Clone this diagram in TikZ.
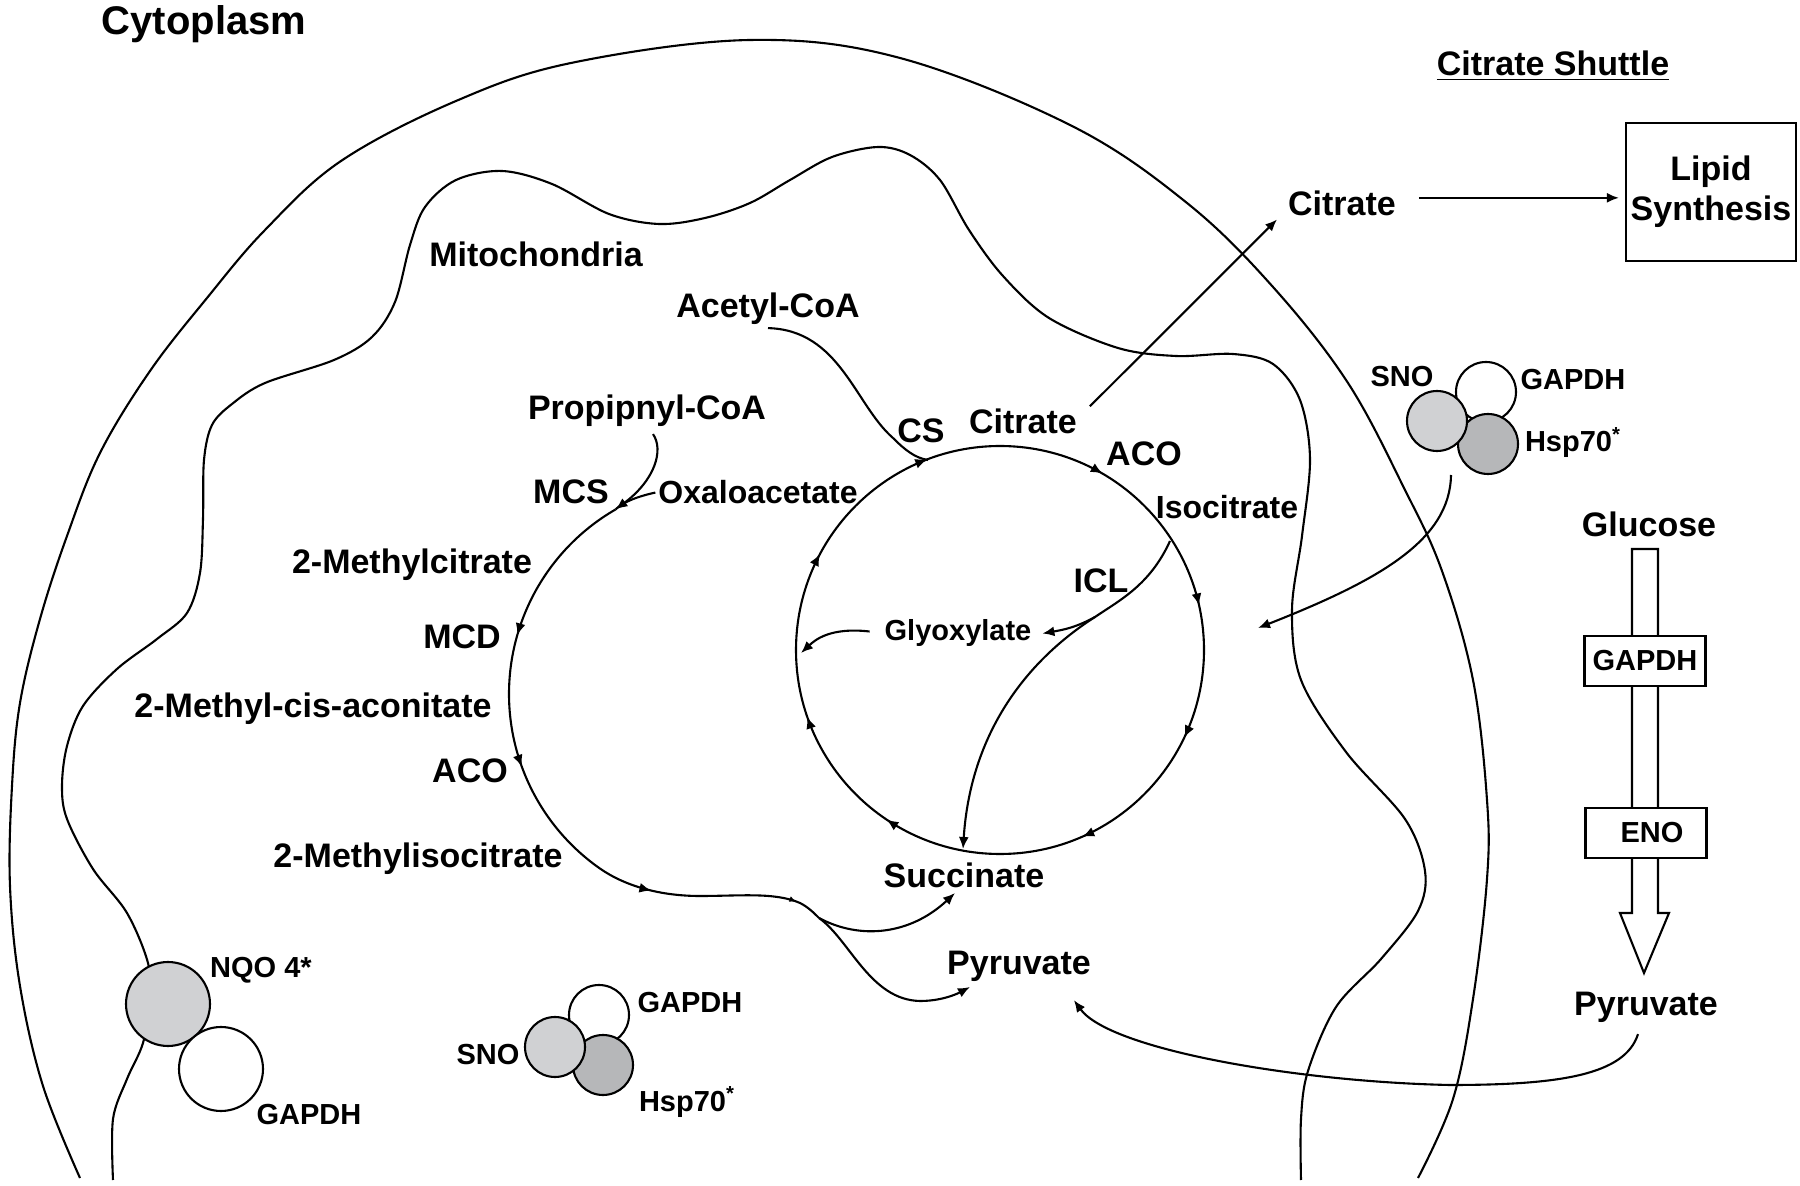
\documentclass[tikz,border=0pt]{standalone}
\usepackage{fontspec}
\setmainfont{Liberation Sans}
\usetikzlibrary{arrows.meta,decorations.markings,calc}

\definecolor{protlight}{RGB}{208,209,211}
\definecolor{protdark}{RGB}{182,183,185}

\tikzset{every picture/.style={line width=1.05pt}}
\tikzset{
  lbl/.style={font=\fontsize{17}{20}\selectfont\bfseries, inner sep=1pt, anchor=base},
  mlbl/.style={lbl, font=\fontsize{16}{19}\selectfont\bfseries},
  slbl/.style={lbl, font=\fontsize{14.5}{17}\selectfont\bfseries},
  tip/.style={-{Latex[length=6pt,width=5pt]}},
  prot/.style={circle, draw, inner sep=0pt, minimum size=30pt},
  enzbox/.style={draw, fill=white, inner sep=0pt, minimum width=60.5pt, minimum height=25pt, font=\fontsize{14.5}{17}\selectfont\bfseries},
  mk/.style={postaction={decorate, decoration={markings, mark=at position #1 with {\arrow{Latex[length=6pt,width=5pt]}}}}},
  mksmall/.style={postaction={decorate, decoration={markings, mark=at position #1 with {\arrow{Latex[length=3.5pt,width=3pt]}}}}},
}

\begin{document}
\begin{tikzpicture}[x=0.5pt,y=0.5pt,yscale=-1,xscale=1]
\useasboundingbox (0,0) rectangle (1800,1186);

%Curve Lines [cell]
\draw plot[smooth, tension=0.6] coordinates {(80,1178) (43,1086) (20,986) (10,886) (12,786) (20,703) (40,619) (67,536) (100,453) (150,371) (207,298) (265,230) (341,161) (456,101) (571,63) (750,40) (900,58) (1072,126) (1187,203) (1273,287) (1348,383) (1405,490) (1442,571) (1473,680) (1487,800) (1487,879) (1473,999) (1453,1099) (1418,1178)};
%Curve Lines [mitochondria]
\draw plot[smooth, tension=0.55] coordinates {(113,1180) (113,1119) (127,1079) (143,1043) (150,1000) (148,963) (127,913) (93,869) (67,819) (62,786) (67,746) (83,706) (117,669) (157,639) (187,613) (200,573) (203,519) (204,460) (212,425) (232,404) (265,383) (334,360) (372,337) (395,302) (410,245) (425,207) (456,180) (502,171) (552,184) (609,214) (659,224) (705,218) (750,203) (790,180) (832,157) (878,147) (910,155) (940,180) (969,230) (1003,276) (1049,318) (1118,348) (1176,356) (1233,354) (1273,364) (1300,400) (1310,459) (1302,536) (1292,610) (1301,680) (1346,752) (1405,819) (1425,871) (1418,911) (1381,959) (1336,1007) (1308,1071) (1301,1119) (1301,1180)};

% Text Node
\node (cyto) [lbl, font=\fontsize{20}{24}\selectfont\bfseries] at (204,35) {Cytoplasm};
% Text Node
\node (shuttle) [lbl] at (1553,76) {\underline{Citrate Shuttle}};
% Text Node
\node (lipid) [draw, align=center, inner sep=0pt, minimum width=85pt, minimum height=69pt, font=\fontsize{17}{20}\selectfont\bfseries] at (1711,192) {Lipid\\Synthesis};
% Text Node
\node (citout) [lbl] at (1342,216) {Citrate};
% Text Node
\node (mito) [lbl] at (536,267) {Mitochondria};
% Text Node
\node (acetyl) [lbl] at (768,318) {Acetyl-CoA};
% Text Node
\node (propcoa) [lbl] at (647,420) {Propipnyl-CoA};
% Text Node
\node (cs) [lbl] at (921,443) {CS};
% Text Node
\node (citin) [lbl] at (1023,434) {Citrate};
% Text Node
\node (acoR) [lbl] at (1144,466) {ACO};
% Text Node
\node (isocit) [mlbl] at (1227,519) {Isocitrate};
% Text Node
\node (mcs) [lbl] at (571,504) {MCS};
% Text Node
\node (oxalo) [mlbl] at (758,504) {Oxaloacetate};
% Text Node
\node (mecit) [lbl] at (412,574) {2-Methylcitrate};
% Text Node
\node (icl) [lbl] at (1101,593) {ICL};
% Text Node
\node (glyox) [slbl] at (958,641) {Glyoxylate};
% Text Node
\node (mcd) [lbl] at (462,649) {MCD};
% Text Node
\node (mecis) [lbl] at (313,718) {2-Methyl-cis-aconitate};
% Text Node
\node (acoL) [lbl] at (470,783) {ACO};
% Text Node
\node (meiso) [lbl] at (418,868) {2-Methylisocitrate};
% Text Node
\node (succ) [lbl] at (964,888) {Succinate};
% Text Node
\node (pyrin) [lbl] at (1019,975) {Pyruvate};
% Text Node
\node (glucose) [lbl] at (1649,537) {Glucose};
% Text Node
\node (pyrR) [lbl] at (1646,1015) {Pyruvate};

%Shape: Block arrow [glycolysis]
\draw [fill=white] (1632,549) -- (1658,549) -- (1658,913) -- (1669,913) -- (1644,973) -- (1620,913) -- (1632,913) -- cycle;
% Text Node
\node (gapdhbox) [enzbox] at (1645,661) {GAPDH};
% Text Node
\node (enobox) [enzbox] at (1646,833) {\hspace{6pt}ENO};

%Shape: Circle [NQO 4 pair]
\node (nqo) [prot, fill=protlight, minimum size=42pt] at (168,1004) {};
\node (gapdhN) [prot, fill=white, minimum size=42pt] at (221,1069) {};
% Text Node
\node (nqoT) [slbl] at (261,978) {NQO 4*};
% Text Node
\node (gapdhNT) [slbl] at (309,1124) {GAPDH};

%Shape: Circle [middle cluster]
\node (gapdhM) [prot, fill=white] at (599,1015) {};
\node (hspM) [prot, fill=protdark] at (603,1065) {};
\node (snoM) [prot, fill=protlight] at (555,1047) {};
% Text Node
\node (gapdhMT) [slbl] at (690,1013) {GAPDH};
% Text Node
\node (snoMT) [slbl] at (488,1064) {SNO};
% Text Node
\node (hspMT) [slbl] at (687,1111) {Hsp70\textsuperscript{*}};

%Shape: Circle [right cluster]
\node (gapdhR) [prot, fill=white] at (1486,392) {};
\node (hspR) [prot, fill=protdark] at (1488,444) {};
\node (snoR) [prot, fill=protlight] at (1437,421) {};
% Text Node
\node (snoRT) [slbl] at (1402,387) {SNO};
% Text Node
\node (gapdhRT) [slbl] at (1573,390) {GAPDH};
% Text Node
\node (hspRT) [slbl] at (1573,452) {Hsp70\textsuperscript{*}};

%Shape: Circle [TCA cycle]
\coordinate (tca) at (1000,650);
\draw [mk=0.0706, mk=0.184, mk=0.344, mk=0.447, mk=0.578, mk=0.692, mk=0.834, mk=0.965] (tca) circle[radius=204];

%Curve Lines [methylcitrate cycle]
\coordinate (mcsj) at (615.5,509.5);
\coordinate (fork) at (819,918);
\draw [mk=81.8pt, mk=148.7pt, mk=242pt, mksmall=315pt] (mcsj) arc[start angle=-120, end angle=-235, radius=213] .. controls (625,886) and (660,896) .. (700,896) .. controls (740,896) and (775,892) .. (800,903) .. controls (808,907) and (814,913) .. (fork);
%Curve Lines
\coordinate (succin) at (955,893);
\draw [tip] (fork) .. controls (860,940) and (910,935) .. (succin);
%Curve Lines
\coordinate (pyrinj) at (970,987);
\draw [tip] (fork) .. controls (850,940) and (870,1000) .. (920,1001) .. controls (940,1001) and (955,995) .. (pyrinj);

%Curve Lines [acetyl-CoA]
\coordinate (csj) at (928,460);
\draw (acetyl.south) .. controls (840,330) and (855,405) .. (893,438) .. controls (905,450) and (915,458) .. (csj);
%Curve Lines [propionyl-CoA]
\draw [tip] ($(propcoa.south)+(6,4)$) .. controls (664,450) and (655,480) .. (mcsj);
%Curve Lines [oxaloacetate]
\draw (oxalo.west) .. controls (635,497) and (622,503) .. (mcsj);

%Curve Lines [ICL]
\coordinate (iclj) at (1170,541);
\coordinate (glyfork) at (1095,617);
\coordinate (succtop) at (963,849);
\draw [tip] (iclj) .. controls (1150,585) and (1120,600) .. (glyfork) .. controls (1020,665) and (970,740) .. (succtop);
%Curve Lines
\draw [tip] (glyfork) .. controls (1075,628) and (1062,630) .. ($(glyox.east)+(8,0)$);
%Curve Lines
\coordinate (glyj) at (801,653);
\draw [tip] ($(glyox.west)+(-12,-2)$) .. controls (830,627) and (815,640) .. (glyj);

%Straight Lines [citrate export]
\draw [tip] ($(citin.north east)+(10,0)$) -- ($(citout.south west)+(-8,0)$);
%Straight Lines
\draw [tip] ($(citout.east)+(20,-6)$) -- ($(citout.east -| lipid.west)+(-6,-6)$);

%Curve Lines [cytosolic cluster]
\coordinate (shstart) at (1451,475);
\coordinate (shend) at (1258,628);
\draw [tip] (shstart) .. controls (1450,540) and (1380,580) .. (shend);

%Curve Lines [pyruvate import]
\draw [tip] ($(pyrR.south)+(-8,9)$) .. controls (1625,1075) and (1560,1085) .. (1450,1085) .. controls (1300,1082) and (1110,1050) .. ($(pyrin.south east)+(-20,15)$);

\end{tikzpicture}
\end{document}
